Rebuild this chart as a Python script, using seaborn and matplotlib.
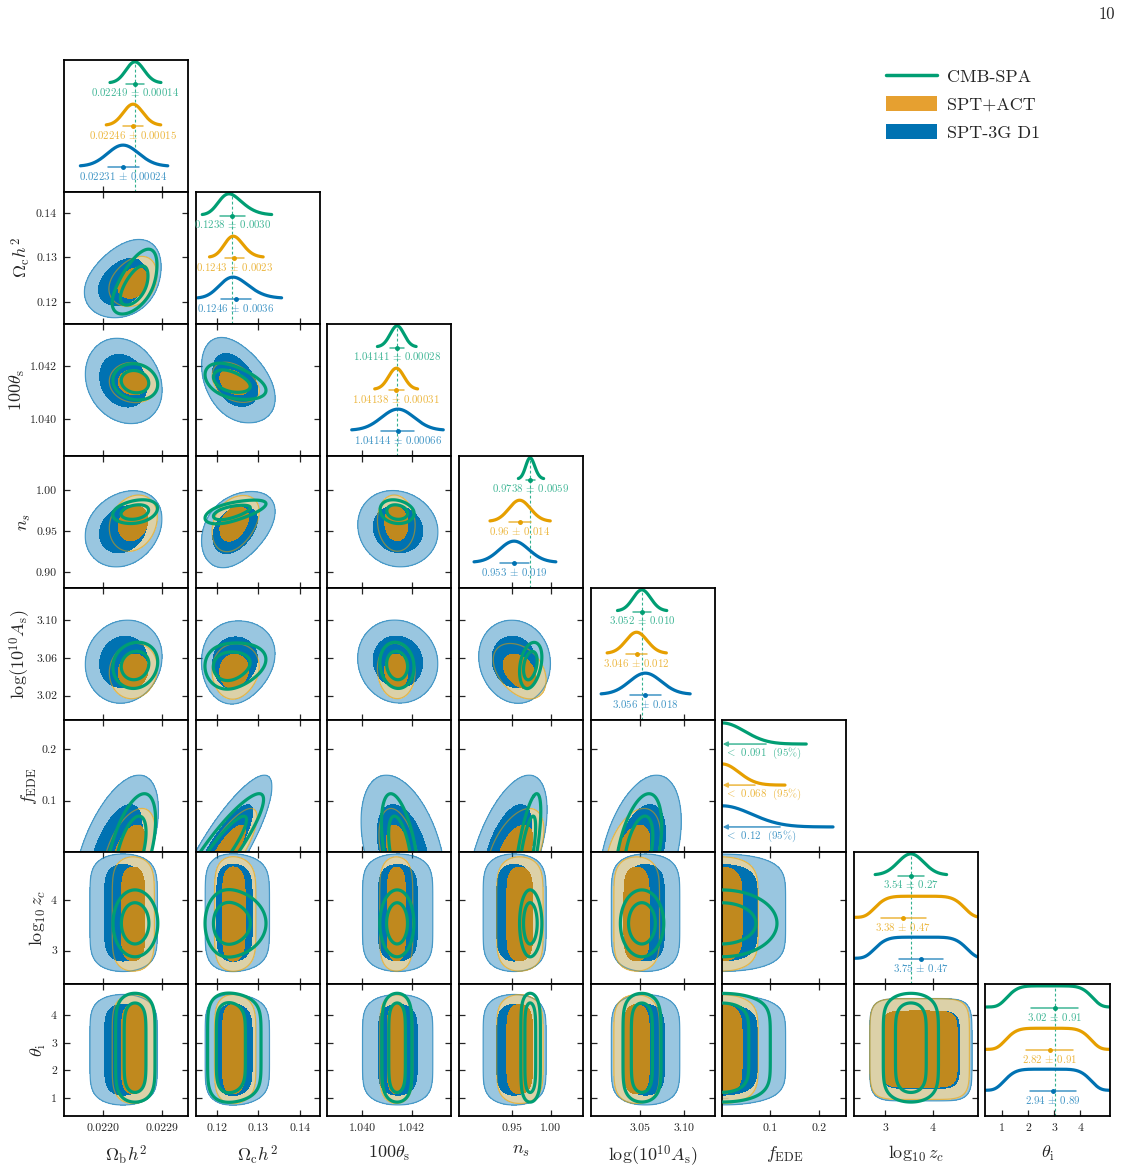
import numpy as np
import matplotlib
matplotlib.use("Agg")
import matplotlib.pyplot as plt
from matplotlib.lines import Line2D
from matplotlib.patches import Patch
import seaborn as sns

# ---------------- data ----------------
axis_labels = [r"$\Omega_{\rm b}h^2$", r"$\Omega_{\rm c}h^2$", r"$100\theta_{\rm s}$", r"$n_s$",
               r"$\log(10^{10}A_{\rm s})$", r"$f_{\rm EDE}$", r"$\log_{10}z_c$", r"$\theta_{\rm i}$"]
names = ["CMB-SPA", "SPT+ACT", "SPT-3G D1"]
colors = ["#009E73", "#E69F00", "#0072B2"]

limits = [(0.02140, 0.02330), (0.1150, 0.1447), (1.0386, 1.0436), (0.881, 1.042),
          (2.994, 3.134), (0.0, 0.257), (2.34, 4.95), (0.35, 5.13)]
xticks = [[0.0220, 0.0229], [0.12, 0.13, 0.14], [1.040, 1.042], [0.95, 1.00],
          [3.05, 3.10], [0.1, 0.2], [3, 4], [1, 2, 3, 4]]
xtick_labels = [["0.0220", "0.0229"], ["0.12", "0.13", "0.14"], ["1.040", "1.042"], ["0.95", "1.00"],
                ["3.05", "3.10"], ["0.1", "0.2"], ["3", "4"], ["1", "2", "3", "4"]]
yticks = [[], [0.12, 0.13, 0.14], [1.040, 1.042], [0.90, 0.95, 1.00],
          [3.02, 3.06, 3.10], [0.1, 0.2], [3, 4], [1, 2, 3, 4]]
ytick_labels = [[], ["0.12", "0.13", "0.14"], ["1.040", "1.042"], ["0.90", "0.95", "1.00"],
                ["3.02", "3.06", "3.10"], ["0.1", "0.2"], ["3", "4"], ["1", "2", "3", "4"]]

# quoted mean and sigma on the diagonal (None = upper limit)
spa_mean = ["0.02249", "0.1238", "1.04141", "0.9738", "3.052", None, "3.54", "3.02"]
spa_std = ["0.00014", "0.0030", "0.00028", "0.0059", "0.010", None, "0.27", "0.91"]
act_mean = ["0.02246", "0.1243", "1.04138", "0.96", "3.046", None, "3.38", "2.82"]
act_std = ["0.00015", "0.0023", "0.00031", "0.014", "0.012", None, "0.47", "0.91"]
spt_mean = ["0.02231", "0.1246", "1.04144", "0.953", "3.056", None, "3.75", "2.94"]
spt_std = ["0.00024", "0.0036", "0.00066", "0.019", "0.018", None, "0.47", "0.89"]
fede_limit = ["0.091", "0.068", "0.12"]

# plateau edges of the flat (prior dominated) parameters
spa_flat = {7: (1.30, 4.35)}
act_flat = {6: (2.85, 4.60), 7: (1.25, 4.30)}
spt_flat = {6: (2.85, 4.65), 7: (1.20, 4.30)}

# correlation of each parameter with f_EDE
spa_fcorr = [0.55, 0.9, -0.5, 0.7, 0.45, 1.0, 0.0, 0.0]
act_fcorr = [0.5, 0.8, -0.4, 0.5, 0.4, 1.0, 0.0, 0.0]
spt_fcorr = [0.55, 0.85, -0.4, 0.55, 0.4, 1.0, 0.0, 0.0]

# remaining correlations at fixed f_EDE
spa_partial = {(0, 1): 0.5, (0, 2): 0.0, (1, 2): -0.3, (0, 3): 0.1, (1, 3): 0.4, (2, 3): 0.0,
               (0, 4): 0.0, (1, 4): -0.1, (2, 4): 0.0, (3, 4): 0.2}
act_partial = {(0, 1): 0.1, (0, 2): 0.0, (1, 2): -0.3, (0, 3): 0.1, (1, 3): 0.2, (2, 3): 0.0,
               (0, 4): 0.0, (1, 4): -0.1, (2, 4): 0.0, (3, 4): -0.5}
spt_partial = {(0, 1): 0.1, (0, 2): -0.1, (1, 2): -0.3, (0, 3): 0.1, (1, 3): 0.2, (2, 3): 0.0,
               (0, 4): 0.0, (1, 4): -0.1, (2, 4): 0.0, (3, 4): -0.2}

means = [spa_mean, act_mean, spt_mean]
stds = [spa_std, act_std, spt_std]
flats = [spa_flat, act_flat, spt_flat]
fcorrs = [spa_fcorr, act_fcorr, spt_fcorr]
partials = [spa_partial, act_partial, spt_partial]

# ---------------- helpers ----------------
def norm_cdf(z):
    x = np.abs(z) / np.sqrt(2)
    t = 1 / (1 + 0.3275911 * x)
    poly = t * (0.254829592 + t * (-0.284496736 + t * (1.421413741 + t * (-1.453152027 + t * 1.061405429))))
    erf = 1 - poly * np.exp(-x * x)
    return 0.5 * (1 + np.sign(z) * erf)


def build_model(mean, std, limit, flat, fcorr, partial):
    c, w, p = np.zeros(8), np.zeros(8), np.full(8, 2.0)
    r = np.array(fcorr)
    R = np.outer(r, r)
    np.fill_diagonal(R, 1.0)
    for (a, b), pc in partial.items():
        R[a, b] = R[b, a] = r[a] * r[b] + np.sqrt((1 - r[a] ** 2) * (1 - r[b] ** 2)) * pc
    for k in range(8):
        if k == 5:
            w[k] = float(limit) / 1.96
        elif k in flat:
            lo, hi = flat[k]
            c[k], w[k], p[k] = (lo + hi) / 2, (hi - lo) / 2, 6
        else:
            d = r[k]
            w[k] = float(std[k]) / np.sqrt(1 - 2 * d * d / np.pi)
            c[k] = float(mean[k]) - d * w[k] * np.sqrt(2 / np.pi)
    return c, w, p, R


def gcoord(x, k, model):
    c, w, p, R = model
    u = (x - c[k]) / w[k]
    return np.sign(u) * np.abs(u) ** (p[k] / 2)


def density2d(a, b, X, Y, model):
    R = model[3]
    ga, gb = gcoord(X, a, model), gcoord(Y, b, model)
    r = R[a, b]
    dens = np.exp(-0.5 * (ga ** 2 - 2 * r * ga * gb + gb ** 2) / (1 - r * r))
    if 5 not in (a, b):
        S = R[np.ix_([a, b], [a, b])]
        sf = R[5, [a, b]]
        coef = np.linalg.solve(S, sf)
        var = max(1 - sf @ coef, 1e-3)
        dens = dens * norm_cdf((coef[0] * ga + coef[1] * gb) / np.sqrt(var))
    return dens


def density1d(k, x, model):
    g = gcoord(x, k, model)
    dens = np.exp(-0.5 * g * g)
    if k != 5:
        r = model[3][k, 5]
        dens = dens * norm_cdf(r * g / np.sqrt(1 - r * r))
    return dens / dens.max()


def grid_range(k, model):
    c, w, p, R = model
    if k == 5:
        return 0.0, 5 * w[k]
    if p[k] > 2:
        return c[k] - 2 * w[k], c[k] + 2 * w[k]
    return c[k] - 5 * w[k], c[k] + 5 * w[k]


def hpd_levels(Z):
    z = np.sort(Z.ravel())[::-1]
    cum = np.cumsum(z) / z.sum()
    return z[np.searchsorted(cum, 0.95)], z[np.searchsorted(cum, 0.68)]


def lighten(col, f):
    rgb = np.array(matplotlib.colors.to_rgb(col))
    return tuple(rgb + (1 - rgb) * f)


models = [build_model(means[d], stds[d], fede_limit[d], flats[d], fcorrs[d], partials[d])
          for d in range(3)]

# ---------------- style ----------------
sns.set_style("ticks")
plt.rcParams.update({
    "font.family": "serif",
    "font.serif": ["cmr10"],
    "mathtext.fontset": "cm",
    "axes.formatter.use_mathtext": True,
    "axes.unicode_minus": False,
    "axes.linewidth": 1.3,
    "axes.edgecolor": "black",
})

fig, axes = plt.subplots(8, 8, figsize=(11.23, 11.69), dpi=100)
fig.subplots_adjust(left=0.057, right=0.988, bottom=0.0453, top=0.9487, wspace=0.061, hspace=0.0)

fill_outer = ["none", "#E8D39F", "#0072B2"]
fill_outer_alpha = [0, 0.85, 0.4]
fill_inner = ["none", "#C0891E", "#0072B2"]
bases = [0.826, 0.505, 0.195]
fede_bases = [0.818, 0.507, 0.19]
height = 0.16

for i in range(8):
    for j in range(8):
        ax = axes[i, j]
        if j > i:
            ax.axis("off")
            continue
        ax.set_xlim(*limits[j])
        if i == j:
            ax.set_ylim(0, 1)
            ax.set_yticks([])
            for d in range(3):
                model = models[d]
                col = colors[d]
                tcol = lighten(col, 0.25)
                c, w, p, R = model
                if j == 5:
                    xs = np.linspace(0, min(3.75 * w[5], limits[5][1]), 300)
                    ys = density1d(5, xs, model)
                    b = fede_bases[d]
                else:
                    xs = np.linspace(*limits[j], 600)
                    ys = density1d(j, xs, model)
                    if p[j] > 2:
                        keep = np.abs(xs - c[j]) < 1.6 * w[j]
                    else:
                        keep = ys >= 0.02
                    xs, ys = xs[keep], ys[keep]
                    b = bases[d]
                sns.lineplot(x=xs, y=b + height * ys, ax=ax, color=col, lw=2.3,
                             sort=False, estimator=None, legend=False)
                if j == 5:
                    ax.annotate("", xy=(0.001, b), xytext=(float(fede_limit[d]), b),
                                arrowprops=dict(arrowstyle="-|>", color=tcol, lw=1.1,
                                                mutation_scale=7, shrinkA=0, shrinkB=0))
                    ax.text(0.005, b - 0.07, r"$<$" + f" {fede_limit[d]}  (95%)",
                            ha="left", va="center", fontsize=7.8, color=tcol)
                else:
                    m, s = float(means[d][j]), float(stds[d][j])
                    eb = b - 0.008
                    ax.plot([m - s, m + s], [eb, eb], color=tcol, lw=1.1)
                    ax.plot([m], [eb], "o", color=col, ms=2.5)
                    ax.text(m, b - 0.072, f"{means[d][j]} $\\pm$ {stds[d][j]}",
                            ha="center", va="center", fontsize=7.8, color=tcol)
            if j != 5:
                ax.axvline(float(spa_mean[j]), color=lighten(colors[0], 0.2), lw=0.8,
                           ls=(0, (2.5, 2)), zorder=0)
        else:
            ax.set_ylim(*limits[i])
            for d in [2, 1, 0]:
                model = models[d]
                xs = np.linspace(*grid_range(j, model), 220)
                ys = np.linspace(*grid_range(i, model), 220)
                X, Y = np.meshgrid(xs, ys)
                Z = density2d(j, i, X, Y, model)
                t95, t68 = hpd_levels(Z)
                top = Z.max() * 1.01
                if d == 0:
                    ax.contour(X, Y, Z, levels=[t95, t68], colors=colors[0], linewidths=2.3, zorder=5)
                else:
                    ax.contourf(X, Y, Z, levels=[t95, top], colors=[fill_outer[d]],
                                alpha=fill_outer_alpha[d], zorder=1)
                    ax.contourf(X, Y, Z, levels=[t68, top], colors=[fill_inner[d]], zorder=2)
                    ax.contour(X, Y, Z, levels=[t95], colors=[colors[d]], linewidths=0.9,
                               alpha=0.55, zorder=2)
            ax.set_yticks(yticks[i])
            if j == 0:
                ax.set_yticklabels(ytick_labels[i])
                ax.set_ylabel(axis_labels[i], fontsize=13, labelpad=2)
            else:
                ax.set_yticklabels([])
        ax.set_xticks(xticks[j])
        if i == 7:
            ax.set_xticklabels(xtick_labels[j])
            ax.set_xlabel(axis_labels[j], fontsize=13, labelpad=8)
        else:
            ax.set_xticklabels([])
        ax.tick_params(direction="in", length=4, width=0.9, top=(i != j), right=(i != j),
                       labelsize=8.5, pad=5)
        for sp in ax.spines.values():
            sp.set_linewidth(1.3)

handles = [Line2D([], [], color=colors[0], lw=2.5),
           Patch(facecolor="#E6A030", edgecolor="none"),
           Patch(facecolor="#0072B2", edgecolor="none")]
fig.legend(handles, names, loc="upper left", bbox_to_anchor=(0.789, 0.9415), frameon=False,
           fontsize=13, handlelength=2.8, handleheight=0.9, labelspacing=0.62,
           handletextpad=0.6, borderpad=0, borderaxespad=0)
fig.text(0.993, 0.988, "10", ha="right", va="center", fontsize=12)

fig.savefig("out.png", dpi=100)
